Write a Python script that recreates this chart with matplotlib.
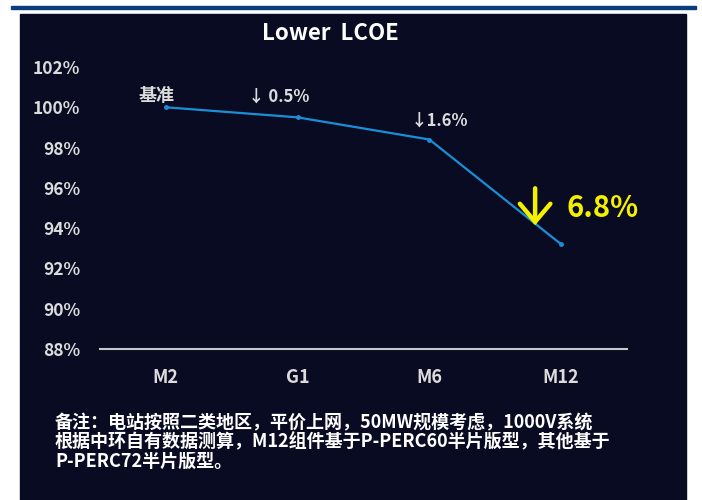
import matplotlib
matplotlib.use("Agg")
import matplotlib.pyplot as plt
from matplotlib.patches import Rectangle
from matplotlib.transforms import offset_copy

plt.rcParams["font.family"] = ["Noto Sans CJK SC", "DejaVu Sans"]

# LCOE relative to M2 baseline
categories = ["M2", "G1", "M6", "M12"]
lcoe = [100.0, 99.5, 98.4, 93.2]
drop_labels = ["基准", "↓ 0.5%", "↓1.6%", "6.8%"]
y_ticks = [88, 90, 92, 94, 96, 98, 100, 102]
note = ("备注：电站按照二类地区，平价上网，50MW规模考虑，1000V系统\n"
        "根据中环自有数据测算，M12组件基于P-PERC60半片版型，其他基于\n"
        "P-PERC72半片版型。")

panel_bg = "#080b21"
line_color = "#1a8fd8"
label_color = "#dcdcdc"
yellow = "#f5f000"

fig = plt.figure(figsize=(7.02, 5.0), dpi=100, facecolor="white")

# dark panel and the blue rule above it
fig.patches.append(Rectangle((20 / 702, 0), 666 / 702, 486 / 500,
                             transform=fig.transFigure, color=panel_bg, zorder=-2))
fig.patches.append(Rectangle((11 / 702, 1 - 9 / 500), 685 / 702, 3 / 500,
                             transform=fig.transFigure, color="#0b3d7c", zorder=-2))

ax = fig.add_axes([100 / 702, 1 - 349 / 500, 527 / 702, 282 / 500])
ax.set_facecolor("none")
ax.set_zorder(2)

x = list(range(len(categories)))
ax.plot(x, lcoe, color=line_color, lw=1.6, marker="o", ms=2.5, zorder=3)

ax.set_xlim(-0.5, 3.5)
ax.set_ylim(88, 102)
ax.set_yticks(y_ticks)
ax.set_yticklabels([f"{v}%" for v in y_ticks])
ax.set_xticks(x)
ax.set_xticklabels(categories)
ax.tick_params(axis="both", length=0, colors=label_color)
ax.tick_params(axis="y", pad=14.4, labelsize=12.5)
ax.tick_params(axis="x", pad=14, labelsize=13)
for lbl in ax.get_xticklabels() + ax.get_yticklabels():
    lbl.set_fontweight("bold")
for side in ["top", "right", "left"]:
    ax.spines[side].set_visible(False)
ax.spines["bottom"].set_color("#c8c8c8")
ax.spines["bottom"].set_linewidth(1.5)

# labels above each point
offsets = [(-9, 12), (-19, 21), (10, 19)]
sizes = [13, 12, 12]
for i in range(3):
    ax.annotate(drop_labels[i], (x[i], lcoe[i]), xytext=offsets[i],
                textcoords="offset pixels", ha="center", va="center",
                color=label_color, fontsize=sizes[i], fontweight="bold")

# big yellow down arrow next to the last point
tip = offset_copy(ax.transData, fig=fig, x=-26, y=19, units="dots")
tail = offset_copy(ax.transData, fig=fig, x=-26, y=56, units="dots")
ax.annotate("", xy=(x[3], lcoe[3]), xycoords=tip,
            xytext=(x[3], lcoe[3]), textcoords=tail,
            arrowprops=dict(arrowstyle="->,head_length=0.65,head_width=0.55",
                            color=yellow, lw=3.2, mutation_scale=20,
                            shrinkA=0, shrinkB=0, joinstyle="miter"))
ax.annotate(drop_labels[3], (x[3], lcoe[3]), xytext=(5, 36), textcoords="offset pixels",
            ha="left", va="center", color=yellow, fontsize=21, fontweight="bold")

fig.text(330 / 702, 1 - 33 / 500, "Lower  LCOE", ha="center", va="center",
         color="white", fontsize=16, fontweight="bold")

fig.text(55 / 702, 1 - 413 / 500, note, ha="left", va="top", color="white",
         fontsize=13, fontweight="bold", linespacing=1.02)

fig.savefig("out.png", dpi=100, facecolor=fig.get_facecolor())
